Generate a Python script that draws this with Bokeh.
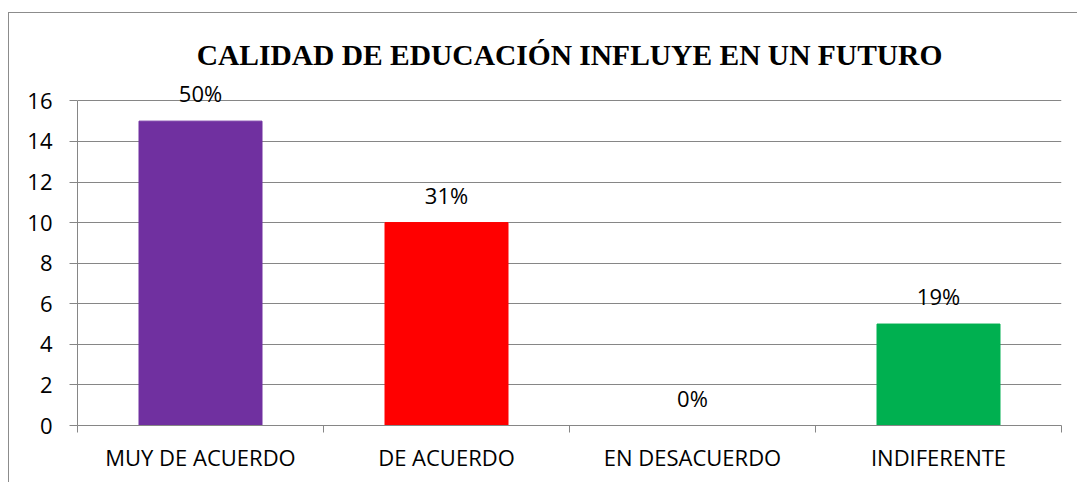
from bokeh.plotting import figure
from bokeh.models import Range1d, FixedTicker, ColumnDataSource, LabelSet
from bokeh.core.properties import value
from bokeh.embed import file_html
from bokeh.resources import INLINE

categories = ["MUY DE ACUERDO", "DE ACUERDO", "EN DESACUERDO", "INDIFERENTE"]
counts = [15, 10, 0, 5]
percent_labels = ["50%", "31%", "0%", "19%"]
colors = ["#7030A0", "#FF0000", "#7030A0", "#00B050"]
y_ticks = [0, 2, 4, 6, 8, 10, 12, 14, 16]
title_text = "CALIDAD DE EDUCACIÓN INFLUYE EN UN FUTURO"

centers = [i + 0.5 for i in range(len(categories))]
src = ColumnDataSource(dict(x=centers, top=counts, lab=percent_labels, color=colors))

# headroom above the top gridline so the "50%" label is not clipped
y_top = y_ticks[-1] + 1.2

p = figure(width=1069, height=470, output_backend="svg", toolbar_location=None,
           x_range=Range1d(0, len(categories)), y_range=Range1d(y_ticks[0], y_top),
           min_border_left=68, min_border_right=17, min_border_top=63, min_border_bottom=58,
           title=title_text)
p.margin = (12, 0, 0, 8)
p.styles = {"border-top": "1px solid #8c8c8c", "border-left": "1px solid #8c8c8c"}

p.title.text_font = "Liberation Serif"
p.title.text_font_size = "29.5px"
p.title.text_font_style = "bold"
p.title.text_color = "black"
p.title.align = "center"
p.title.offset = -19
p.title.standoff = 12

p.outline_line_color = None
p.background_fill_color = "white"
p.border_fill_color = "white"

p.vbar(x="x", top="top", width=0.5, color="color", source=src)
labels = LabelSet(x="x", y="top", text="lab", source=src, text_align="center",
                  text_baseline="alphabetic", y_offset=19, text_font=value("Open Sans"),
                  text_font_size=value("22px"), text_color=value("black"), level="overlay")
p.add_layout(labels)

# grid
p.xgrid.grid_line_color = None
p.ygrid.grid_line_color = "#868686"
p.ygrid.grid_line_width = 1
p.ygrid.ticker = FixedTicker(ticks=y_ticks)

# y axis
p.yaxis.ticker = FixedTicker(ticks=y_ticks)
p.yaxis.bounds = (y_ticks[0], y_ticks[-1])
p.yaxis.axis_line_color = "#868686"
p.yaxis.major_tick_line_color = "#868686"
p.yaxis.major_tick_out = 8
p.yaxis.major_tick_in = 0
p.yaxis.minor_tick_line_color = None
p.yaxis.major_label_text_font = "Open Sans"
p.yaxis.major_label_text_font_size = "22px"
p.yaxis.major_label_text_color = "black"
p.yaxis.major_label_standoff = 17

# x axis
p.xaxis.ticker = FixedTicker(ticks=centers, minor_ticks=list(range(len(categories) + 1)))
p.xaxis.major_label_overrides = {c: cat for c, cat in zip(centers, categories)}
p.xaxis.axis_line_color = "#868686"
p.xaxis.major_tick_line_color = None
p.xaxis.minor_tick_line_color = "#868686"
p.xaxis.minor_tick_out = 7
p.xaxis.minor_tick_in = 0
p.xaxis.major_label_text_font = "Open Sans"
p.xaxis.major_label_text_font_size = "22px"
p.xaxis.major_label_text_color = "black"
p.xaxis.major_label_standoff = 9

open("out.html", "w").write(file_html(p, INLINE))
